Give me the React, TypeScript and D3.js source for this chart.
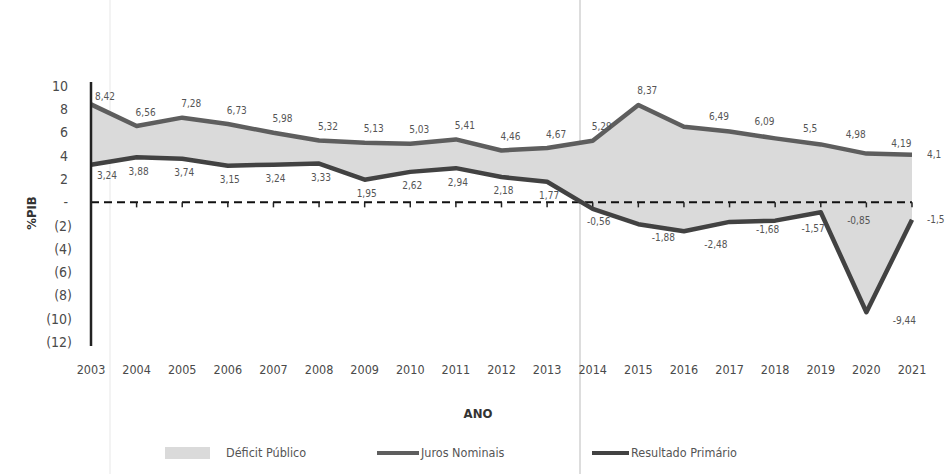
import React from 'react';
import * as d3 from 'd3';

const years = ['2003','2004','2005','2006','2007','2008','2009','2010','2011','2012','2013','2014','2015','2016','2017','2018','2019','2020','2021'];
const jurosNominais = [8.42, 6.56, 7.28, 6.73, 5.98, 5.32, 5.13, 5.03, 5.41, 4.46, 4.67, 5.29, 8.37, 6.49, 6.09, 5.5, 4.98, 4.19, 4.1];
const resultadoPrimario = [3.24, 3.88, 3.74, 3.15, 3.24, 3.33, 1.95, 2.62, 2.94, 2.18, 1.77, -0.56, -1.88, -2.48, -1.68, -1.57, -0.85, -9.44, -1.5];
const yTicks = [10, 8, 6, 4, 2, 0, -2, -4, -6, -8, -10, -12];
const legendLabels = ['Déficit Público', 'Juros Nominais', 'Resultado Primário'];
const yTitle = '%PIB';
const xTitle = 'ANO';

const FONT = "'DejaVu Sans Condensed', 'DejaVu Sans', sans-serif";
const FILL = '#dadada';
const C_JUROS = '#5e5e5e';
const C_PRIM = '#424242';
const TXT = '#555';

export default function App() {
  const W = 947, H = 474;
  const x = d3.scalePoint<string>().domain(years).range([91, 912]);
  const y = d3.scaleLinear().domain([-12, 10]).range([342, 86]);
  const y0 = y(0);
  const last = years.length - 1;

  const rows = years.map((yr, i) => ({ yr, j: jurosNominais[i], p: resultadoPrimario[i] }));
  const area = d3.area<any>().x(d => x(d.yr)!).y0(d => y(d.p)).y1(d => y(d.j));
  const lineJ = d3.line<any>().x(d => x(d.yr)!).y(d => y(d.j));
  const lineP = d3.line<any>().x(d => x(d.yr)!).y(d => y(d.p));

  const fmtTick = (v: number) => (v === 0 ? '-' : v < 0 ? `(${-v})` : `${v}`);
  const fmtLabel = (v: number) => d3.format('.2~f')(v).replace('\u2212', '-').replace('.', ',');

  const topPos = (i: number) => {
    if (i === last) return { dx: 15, dy: 0, anchor: 'start' };
    if (i >= 13) return { dx: 35, dy: -10, anchor: 'middle' };
    if (i === 0) return { dx: 14, dy: -8, anchor: 'middle' };
    return { dx: 9, dy: -14, anchor: 'middle' };
  };
  const botPos = (i: number) => {
    if (i === last) return { dx: 15, dy: 0, anchor: 'start' };
    if (i === 12) return { dx: 25, dy: 13, anchor: 'middle' };
    if (i === 13) return { dx: 32, dy: 13, anchor: 'middle' };
    if (i >= 14) return { dx: 38, dy: 8, anchor: 'middle' };
    if (i === 0) return { dx: 16, dy: 11, anchor: 'middle' };
    if (i === 11) return { dx: 6, dy: 13, anchor: 'middle' };
    return { dx: 2, dy: 14, anchor: 'middle' };
  };

  return (
    <div style={{ position: 'absolute', left: 0, top: 0 }}>
      <svg width={W} height={H} style={{ display: 'block', background: '#fff' }} fontFamily={FONT}>
        {/* faint scan artefacts */}
        <line x1={580} x2={580} y1={0} y2={H} stroke="#d2d2d2" strokeWidth={1.5} />
        <line x1={110} x2={110} y1={0} y2={H} stroke="#efefef" strokeWidth={1.5} />

        {/* area between series */}
        <path d={area(rows)!} fill={FILL} />

        {/* zero dashed axis */}
        <line x1={x(years[0])} x2={x(years[last])} y1={y0} y2={y0} stroke="#111" strokeWidth={2} strokeDasharray="8,5" />
        {years.map(yr => (
          <line key={'t' + yr} x1={x(yr)} x2={x(yr)} y1={y0} y2={y0 + 5} stroke="#222" strokeWidth={1.5} />
        ))}

        {/* lines */}
        <path d={lineJ(rows)!} fill="none" stroke={C_JUROS} strokeWidth={4.5} strokeLinejoin="round" />
        <path d={lineP(rows)!} fill="none" stroke={C_PRIM} strokeWidth={4.5} strokeLinejoin="round" />

        {/* y axis */}
        <line x1={91} x2={91} y1={y(10) - 4} y2={y(-12) + 4} stroke="#222" strokeWidth={2.5} />
        {yTicks.map(v => (
          <text key={'y' + v} x={v < 0 ? 72 : 68} y={y(v)} dy="0.35em" textAnchor="end" fontSize={14} fill="#4a4a4a">
            {fmtTick(v)}
          </text>
        ))}
        <text transform={`translate(36,${213}) rotate(-90)`} textAnchor="middle" fontSize={13} fill="#333" fontWeight="bold">
          {yTitle}
        </text>

        {/* x labels */}
        {years.map(yr => (
          <text key={'x' + yr} x={x(yr)} y={370} dy="0.35em" textAnchor="middle" fontSize={12.5} fill="#4a4a4a">
            {yr}
          </text>
        ))}
        <text x={478} y={413} dy="0.35em" textAnchor="middle" fontSize={13} fill="#333" fontWeight="bold">
          {xTitle}
        </text>

        {/* data labels */}
        {rows.map((d, i) => {
          const p = topPos(i);
          return (
            <text key={'lj' + i} x={x(d.yr)! + p.dx} y={y(d.j) + p.dy} dy="0.35em" textAnchor={p.anchor} fontSize={10} fill={TXT}>
              {fmtLabel(d.j)}
            </text>
          );
        })}
        {rows.map((d, i) => {
          const p = botPos(i);
          return (
            <text key={'lp' + i} x={x(d.yr)! + p.dx} y={y(d.p) + p.dy} dy="0.35em" textAnchor={p.anchor} fontSize={10} fill={TXT}>
              {fmtLabel(d.p)}
            </text>
          );
        })}

        {/* legend */}
        <rect x={165} y={447} width={45} height={12} fill={FILL} />
        <text x={226} y={453} dy="0.35em" fontSize={12.5} fill={TXT}>{legendLabels[0]}</text>
        <line x1={377} x2={419} y1={453} y2={453} stroke={C_JUROS} strokeWidth={4} />
        <text x={421} y={453} dy="0.35em" fontSize={12.5} fill={TXT}>{legendLabels[1]}</text>
        <line x1={592} x2={629} y1={453} y2={453} stroke={C_PRIM} strokeWidth={4} />
        <text x={631} y={453} dy="0.35em" fontSize={12.5} fill={TXT}>{legendLabels[2]}</text>
      </svg>
    </div>
  );
}
